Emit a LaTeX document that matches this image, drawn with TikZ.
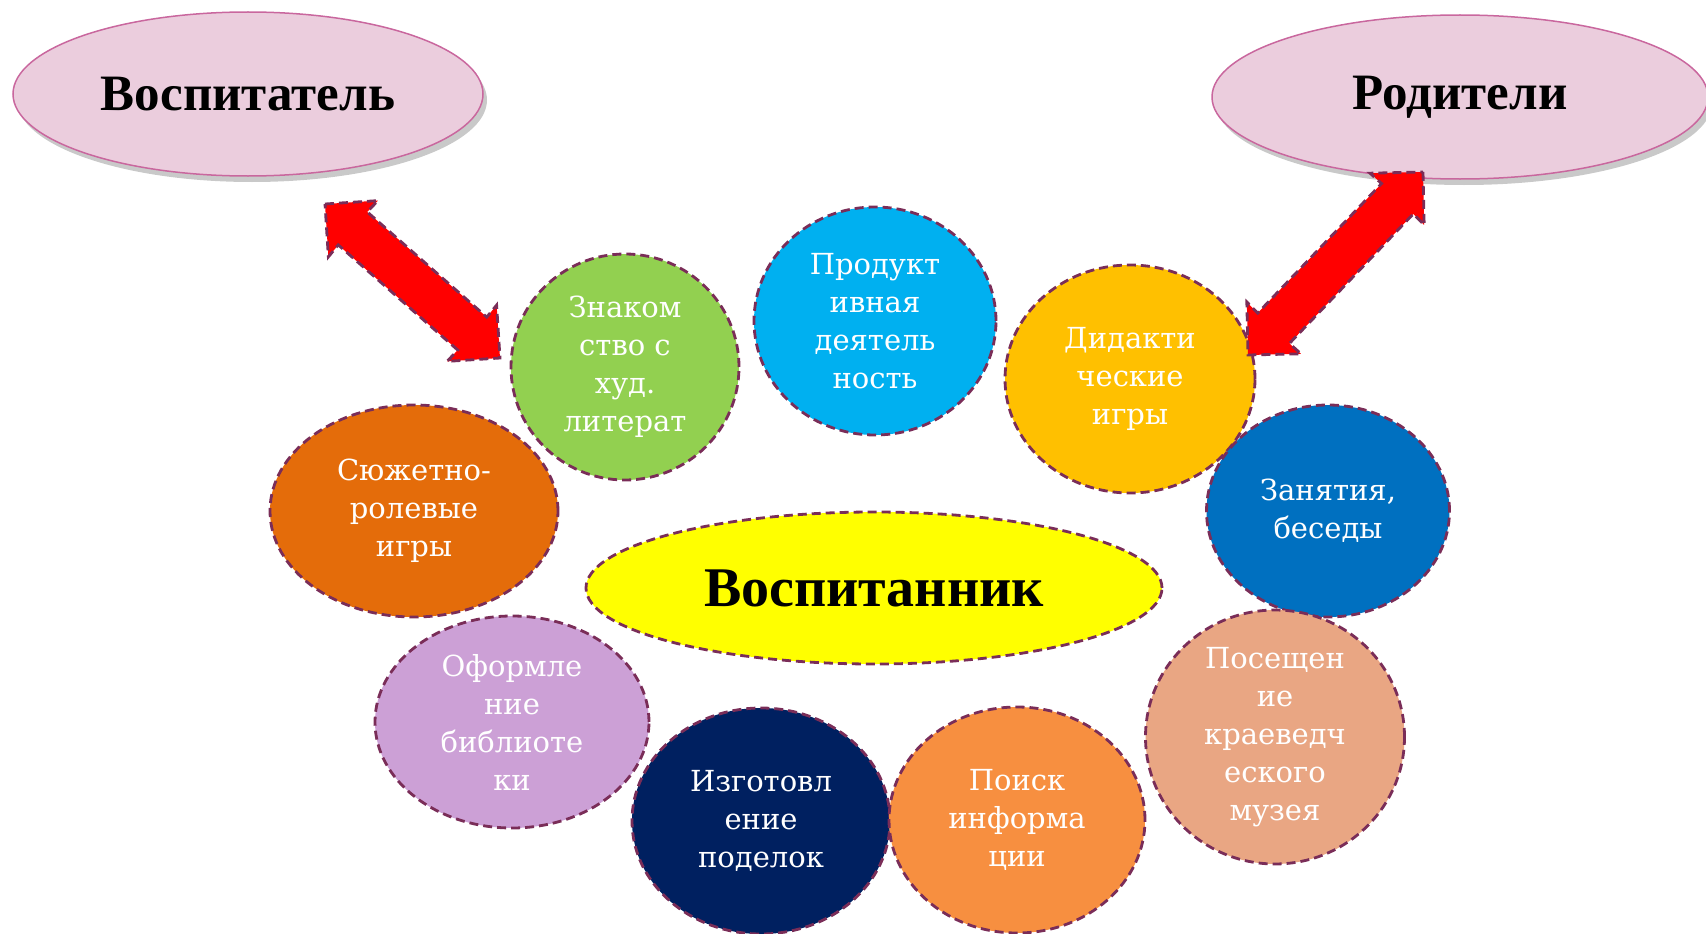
\documentclass[tikz,border=0pt]{standalone}
\usepackage{fontspec}
\setmainfont{Liberation Serif}
\newfontfamily\bubblefont{DejaVu Serif}
\usetikzlibrary{shapes.geometric,calc,shadows}

\definecolor{dashcol}{RGB}{122,45,88}
\definecolor{pinkfill}{RGB}{235,205,221}
\definecolor{pinkline}{RGB}{201,103,158}
\definecolor{cgreen}{RGB}{146,208,80}
\definecolor{ccyan}{RGB}{0,176,240}
\definecolor{camber}{RGB}{255,192,0}
\definecolor{cblue}{RGB}{0,112,192}
\definecolor{cdorange}{RGB}{228,108,10}
\definecolor{clilac}{RGB}{204,160,214}
\definecolor{cnavy}{RGB}{0,32,96}
\definecolor{corange}{RGB}{247,143,64}
\definecolor{csalmon}{RGB}{233,166,131}
\definecolor{cyellow}{RGB}{255,255,0}

\tikzset{
  topoval/.style={ellipse, draw=pinkline, line width=1.5pt, fill=pinkfill, inner sep=0pt,
    font=\bfseries\fontsize{51}{56}\selectfont,
    drop shadow={shadow xshift=4pt, shadow yshift=-6pt, opacity=0.3, fill=black!70}},
  bubble/.style={ellipse, draw=dashcol, line width=2.8pt, dash pattern=on 9pt off 5pt,
    inner sep=0pt, align=center, text=white, font=\bubblefont\fontsize{29}{38}\selectfont},
  blockarr/.style={fill=red, draw=dashcol, line width=2.8pt, dash pattern=on 9pt off 5pt,
    line join=miter}
}

% double block arrow between two coordinates
\newcommand{\blockarrow}[2]{
  \path[blockarr] (#1) -- ($(#1)!53pt!45:(#2)$) -- ($(#1)!43pt!30.7:(#2)$)
    -- ($(#2)!43pt!-30.7:(#1)$) -- ($(#2)!53pt!-45:(#1)$) -- (#2)
    -- ($(#2)!53pt!45:(#1)$) -- ($(#2)!43pt!30.7:(#1)$)
    -- ($(#1)!43pt!-30.7:(#2)$) -- ($(#1)!53pt!-45:(#2)$) -- cycle;
}

\begin{document}
\begin{tikzpicture}[x=1pt,y=-1pt]
\useasboundingbox (0,0) rectangle (1706,934);

% top ovals
\node[topoval, minimum width=470pt, minimum height=164pt] (vospitatel) at (248,94) {Воспитатель};
\node[topoval, minimum width=496pt, minimum height=164pt] (roditeli) at (1460,97) {Родители};

% bubbles
\node[bubble, fill=cgreen, minimum width=228pt, minimum height=226pt] (znakomstvo) at (625,367) {Знаком\\ство с\\худ.\\литерат};
\node[bubble, fill=ccyan, minimum width=242pt, minimum height=228pt] (produkt) at (875,321) {Продукт\\ивная\\деятель\\ность};
\node[bubble, fill=camber, minimum width=250pt, minimum height=228pt] (didakt) at (1130,379) {Дидакти\\ческие\\игры};
\node[bubble, fill=cblue, minimum width=243pt, minimum height=212pt] (zanyatiya) at (1328,511) {Занятия,\\беседы};
\node[bubble, fill=cdorange, minimum width=288pt, minimum height=212pt] (syuzhet) at (414,511) {Сюжетно-\\ролевые\\игры};
\node[bubble, fill=clilac, minimum width=274pt, minimum height=212pt] (oformlenie) at (512,722) {Оформле\\ние\\библиоте\\ки};
\node[bubble, fill=cnavy, minimum width=258pt, minimum height=226pt] (izgotovl) at (761,821) {Изготовл\\ение\\поделок};
\node[bubble, fill=corange, minimum width=256pt, minimum height=226pt] (poisk) at (1017,820) {Поиск\\информа\\ции};
\node[bubble, fill=csalmon, minimum width=259pt, minimum height=242pt] (poseshch) at (1275,737) {Посещен\\ие\\краеведч\\еского\\музея};

% centre
\node[bubble, fill=cyellow, text=black, minimum width=576pt, minimum height=152pt,
  font=\bfseries\fontsize{56}{60}\selectfont] (vospitannik) at (874,588) {Воспитанник};

% arrows
\coordinate (la1) at (325,204);
\coordinate (la2) at (500,358);
\coordinate (ra1) at (1423,172);
\coordinate (ra2) at (1248,355);
\blockarrow{la1}{la2}
\blockarrow{ra1}{ra2}
\end{tikzpicture}
\end{document}
